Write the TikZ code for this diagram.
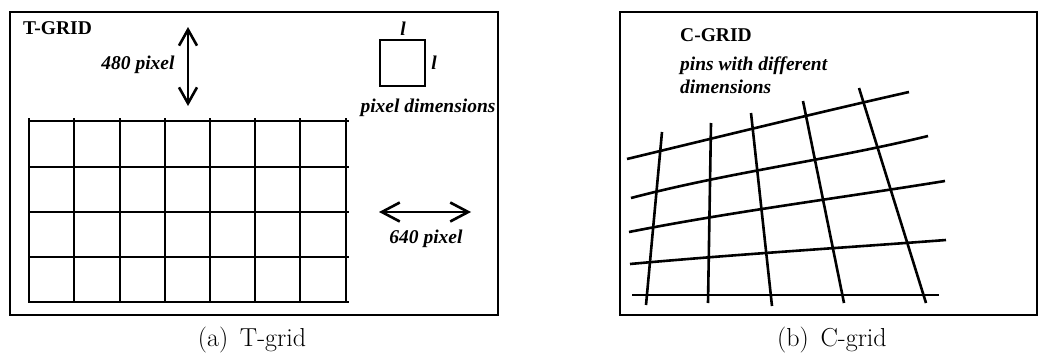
\documentclass[tikz,border=0pt]{standalone}
\usepackage{fontspec}
\setmainfont{Liberation Serif}
\newfontfamily\lmfont{Latin Modern Roman}
\usetikzlibrary{arrows.meta}
\tikzset{
  frame/.style={line width=2.6pt},
  gridline/.style={line width=2.6pt},
  lbl/.style={font=\fontsize{19.5}{23}\selectfont\bfseries\itshape, inner sep=0pt},
  ttl/.style={font=\fontsize{19.5}{23}\selectfont\bfseries, inner sep=0pt},
  captext/.style={font=\fontsize{26}{30}\selectfont\lmfont, inner sep=0pt},
  dimarrow/.style={line width=2.6pt, {Straight Barb[length=16pt,width=18pt,line width=2.6pt]}-{Straight Barb[length=16pt,width=18pt,line width=2.6pt]}},
  hdimarrow/.style={line width=2.6pt, {Straight Barb[length=18pt,width=19pt,line width=2.6pt]}-{Straight Barb[length=18pt,width=19pt,line width=2.6pt]}}
}
\begin{document}
\begin{tikzpicture}[x=1pt,y=-1pt]
\useasboundingbox (0,0) rectangle (1040,356);
\fill[white] (0,0) rectangle (1040,356);
% ---------------- (a) T-grid ----------------
\draw[frame] (10,12) rectangle (498,315);
\node[ttl, anchor=west] (tgrid) at (23,28) {T-GRID};
\coordinate (vtop) at (188,27);
\coordinate (vbot) at (188,106);
\draw[dimarrow] (vtop) -- (vbot);
\node[lbl] (p480) at (138,65) {480 pixel};
\draw[frame] (380,40) rectangle (425,86);
\node[lbl] (lt) at (403,29) {l};
\node[lbl] (lr) at (434,63) {l};
\node[lbl] (pdim) at (428,108) {pixel dimensions};
\foreach \x in {29,74,120,165,210,255,300,346}
  \draw[gridline] (\x,118) -- (\x,303);
\foreach \y in {121,167,212,257,302}
  \draw[gridline] (28,\y) -- (349,\y);
\coordinate (hl) at (379,212);
\coordinate (hr) at (471,212);
\draw[hdimarrow] (hl) -- (hr);
\node[lbl] (p640) at (426,239) {640 pixel};
\node[captext] (capa) at (252,340) {(a)\hspace{0.45em}T-grid};
% ---------------- (b) C-grid ----------------
\draw[frame] (620,12) rectangle (1037,315);
\node[ttl, anchor=west] (cgrid) at (680,35) {C-GRID};
\node[lbl, anchor=north west, align=left] (pins) at (680,57) {pins with different\\dimensions};
% horizontal lines
\draw[gridline] (627,159) .. controls (710,139) and (820,112) .. (909,92);
\draw[gridline] (631,198) .. controls (730,172) and (830,160) .. (928,136);
\draw[gridline] (629,232) .. controls (730,212) and (840,198) .. (945,181);
\draw[gridline] (630,264) .. controls (740,254) and (840,248) .. (946,240);
\draw[gridline] (632,295) -- (939,295);
% vertical lines
\draw[gridline] (662,132) -- (646,305);
\draw[gridline] (711,123) -- (708,303);
\draw[gridline] (751,113) -- (772,306);
\draw[gridline] (803,101) -- (844,303);
\draw[gridline] (859,88) -- (926,303);
\node[captext] (capb) at (832,340) {(b)\hspace{0.45em}C-grid};
\end{tikzpicture}
\end{document}
